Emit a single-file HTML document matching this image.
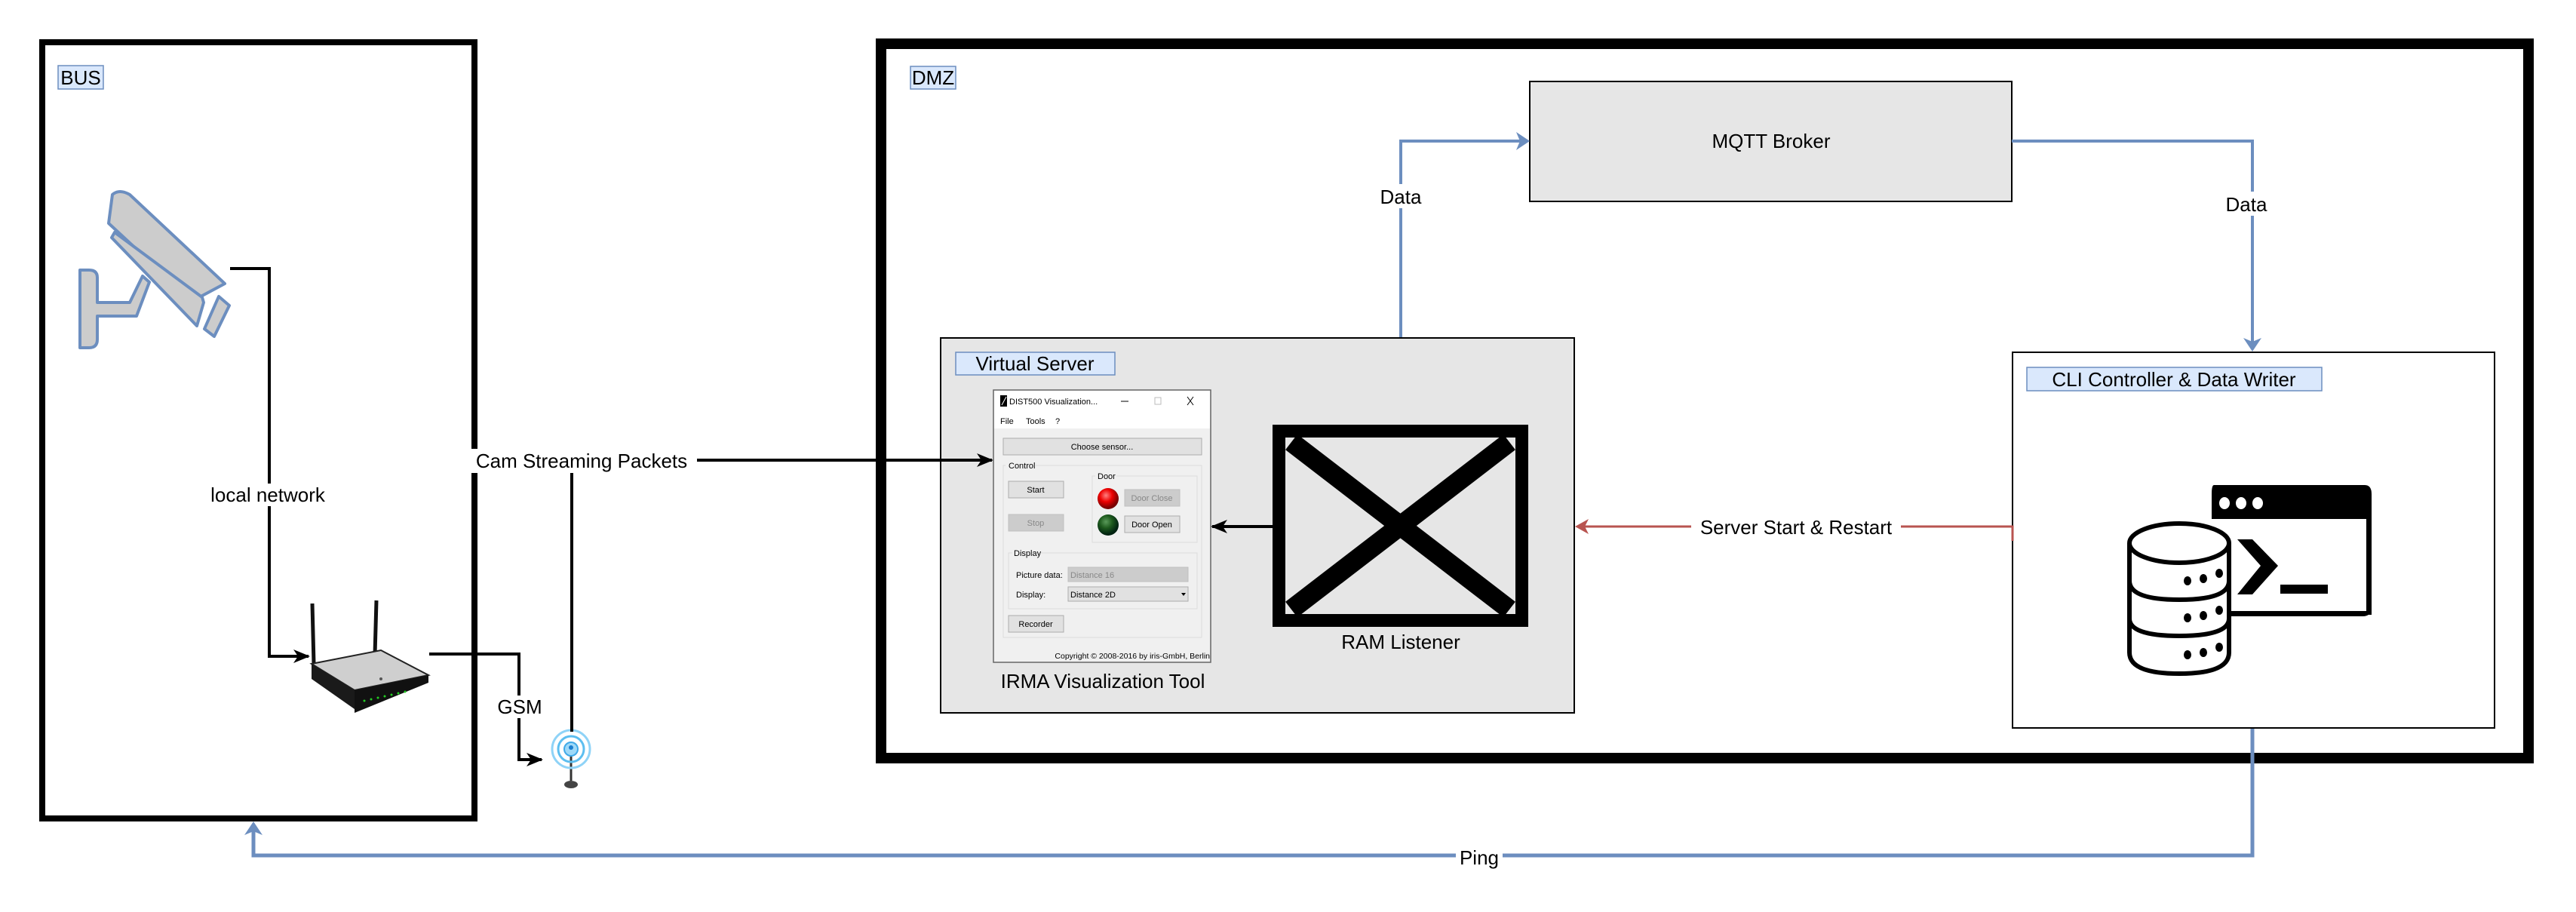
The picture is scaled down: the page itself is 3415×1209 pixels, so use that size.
<!DOCTYPE html>
<html><head><meta charset="utf-8"><style>
html,body{margin:0;padding:0;background:#fff;}
svg{display:block;}
text{font-family:"Liberation Sans",Arial,sans-serif;fill:#000;}
</style></head><body>
<svg width="3415" height="1209" viewBox="0 0 3415 1209" xmlns="http://www.w3.org/2000/svg">
<defs>
<marker id="ab" markerWidth="22" markerHeight="22" refX="20" refY="11" orient="auto" markerUnits="userSpaceOnUse" viewBox="0 0 22 22"><path d="M0,2 L22,11 L0,20 L6,11 Z" fill="#000"/></marker>
<radialGradient id="rg" cx="0.4" cy="0.35" r="0.6"><stop offset="0" stop-color="#ff8080"/><stop offset="0.5" stop-color="#ee0000"/><stop offset="1" stop-color="#700"/></radialGradient>
<radialGradient id="gg" cx="0.4" cy="0.35" r="0.6"><stop offset="0" stop-color="#5a9a5a"/><stop offset="0.5" stop-color="#1d5a1d"/><stop offset="1" stop-color="#021"/></radialGradient>
</defs>
<rect width="3415" height="1209" fill="#fff"/>

<!-- BUS container -->
<rect x="56" y="56" width="573" height="1029" fill="none" stroke="#000" stroke-width="8"/>
<rect x="77" y="87" width="60" height="31" fill="#dae8fc" stroke="#6c8ebf" stroke-width="1.5"/>
<text x="107" y="112" font-size="26" text-anchor="middle">BUS</text>

<!-- DMZ container -->
<rect x="1168" y="58" width="2184" height="947" fill="none" stroke="#000" stroke-width="14"/>
<rect x="1207" y="88" width="60" height="30" fill="#dae8fc" stroke="#6c8ebf" stroke-width="1.5"/>
<text x="1237" y="112" font-size="26" text-anchor="middle">DMZ</text>

<!-- Camera -->
<g fill="#cccccc" stroke="#6c8ebf" stroke-width="4" stroke-linejoin="round">
<path d="M149,258 Q158,250 172,258 L298,376 L255,399 L144,296 Z"/>
<path d="M148,315 L152,308 L268,394 L270,401 L261,432 Z"/>
<path d="M290,393 L304,405 L284,446 L271,436 Z"/>
<path d="M106,358 L118,358 Q129,358 129,368 L129,401 L172,401 L189,366 L198,374 L181,419 L129,419 L129,450 Q129,461 118,461 L106,461 Z"/>
</g>

<!-- camera -> router -->
<polyline points="305,356 357,356 357,870 409,870" fill="none" stroke="#000" stroke-width="4" marker-end="url(#ab)"/>
<rect x="270" y="641" width="174" height="30" fill="#fff"/>
<text x="355" y="665" font-size="26" text-anchor="middle">local network</text>

<!-- Router -->
<g>
<line x1="414" y1="800" x2="416" y2="880" stroke="#111" stroke-width="5"/>
<line x1="499" y1="796" x2="497" y2="868" stroke="#111" stroke-width="5"/>
<polygon points="413,880 505,862 568,895 470,915" fill="#cfcfcf" stroke="#222" stroke-width="2"/>
<polygon points="413,880 470,915 470,940 413,900" fill="#1a1a1a"/>
<polygon points="470,915 568,895 568,905 470,945" fill="#111"/>
<g fill="#2c2"><circle cx="483" cy="929" r="1.5"/><circle cx="492" cy="927" r="1.5"/><circle cx="501" cy="925" r="1.5"/><circle cx="510" cy="923" r="1.5"/><circle cx="519" cy="921" r="1.5"/><circle cx="528" cy="919" r="1.5"/><circle cx="537" cy="917" r="1.5"/></g>
<circle cx="505" cy="900" r="2" fill="#555"/>
</g>

<!-- router -> antenna GSM -->
<polyline points="569,867 688,867 688,1007 718,1007" fill="none" stroke="#000" stroke-width="4" marker-end="url(#ab)"/>
<rect x="652" y="922" width="74" height="30" fill="#fff"/>
<text x="689" y="946" font-size="26" text-anchor="middle">GSM</text>

<!-- Antenna icon -->
<g>
<line x1="757" y1="995" x2="757" y2="1035" stroke="#333" stroke-width="3"/>
<ellipse cx="757" cy="1040" rx="9" ry="5" fill="#444"/>
<circle cx="757" cy="993" r="25" fill="none" stroke="#8fd3f7" stroke-width="3"/>
<circle cx="757" cy="993" r="17" fill="none" stroke="#5cbef0" stroke-width="3"/>
<circle cx="757" cy="993" r="9" fill="#9ed9f8" stroke="#3fa9e8" stroke-width="2"/>
<circle cx="757" cy="991" r="3" fill="#1b7fd0"/>
</g>

<!-- MQTT Broker -->
<rect x="2028" y="108" width="639" height="159" fill="#e6e6e6" stroke="#000" stroke-width="2"/>
<text x="2348" y="196" font-size="26" text-anchor="middle">MQTT Broker</text>

<!-- Data: RAM -> MQTT -->
<polyline points="1857,562 1857,187 2018,187" fill="none" stroke="#6c8ebf" stroke-width="4"/>
<polygon points="2028,187 2010,175 2015,187 2010,199" fill="#6c8ebf"/>
<rect x="1826" y="244" width="62" height="32" fill="#fff"/>
<text x="1857" y="270" font-size="26" text-anchor="middle">Data</text>

<!-- Data: MQTT -> CLI -->
<polyline points="2667,187 2986,187 2986,456" fill="none" stroke="#6c8ebf" stroke-width="4"/>
<polygon points="2986,466 2974,448 2986,453 2998,448" fill="#6c8ebf"/>
<rect x="2946" y="254" width="64" height="32" fill="#fff"/>
<text x="2978" y="280" font-size="26" text-anchor="middle">Data</text>

<!-- Virtual Server -->
<rect x="1247" y="448" width="840" height="497" fill="#e6e6e6" stroke="#000" stroke-width="2"/>
<rect x="1267" y="467" width="211" height="30" fill="#dae8fc" stroke="#6c8ebf" stroke-width="1.5"/>
<text x="1372" y="491" font-size="26" text-anchor="middle">Virtual Server</text>

<!-- Antenna -> IRMA (Cam Streaming Packets) -->
<polyline points="758,970 758,610 1315,610" fill="none" stroke="#000" stroke-width="4" marker-end="url(#ab)"/>
<rect x="618" y="595" width="306" height="32" fill="#fff"/>
<text x="771" y="620" font-size="26" text-anchor="middle">Cam Streaming Packets</text>

<!-- IRMA window -->
<g font-size="11">
<rect x="1317" y="517" width="288" height="361" fill="#f0f0f0" stroke="#666" stroke-width="1.5"/>
<rect x="1318" y="518" width="286" height="50" fill="#fff"/>
<rect x="1326" y="524" width="9" height="15" fill="#000"/>
<line x1="1328" y1="537" x2="1334" y2="526" stroke="#fff" stroke-width="1"/>
<text x="1338" y="536" font-size="11">DIST500 Visualization...</text>
<line x1="1486" y1="532" x2="1496" y2="532" stroke="#000" stroke-width="1"/>
<rect x="1531" y="527" width="8" height="9" fill="none" stroke="#bbb" stroke-width="1"/>
<path d="M1574,526 L1582,537 M1582,526 L1574,537" stroke="#000" stroke-width="1"/>
<text x="1326" y="562">File</text><text x="1360" y="562">Tools</text><text x="1399" y="562">?</text>
<rect x="1330" y="581" width="263" height="22" fill="#e1e1e1" stroke="#adadad"/>
<text x="1461" y="596" text-anchor="middle">Choose sensor...</text>
<rect x="1330" y="617" width="263" height="228" fill="none" stroke="#dcdcdc"/>
<rect x="1333" y="611" width="40" height="12" fill="#f0f0f0"/>
<text x="1337" y="621">Control</text>
<rect x="1448" y="631" width="139" height="88" fill="none" stroke="#dcdcdc"/>
<rect x="1452" y="626" width="28" height="12" fill="#f0f0f0"/>
<text x="1455" y="635">Door</text>
<rect x="1337" y="638" width="73" height="22" fill="#e1e1e1" stroke="#adadad"/>
<text x="1373" y="653" text-anchor="middle">Start</text>
<rect x="1337" y="682" width="73" height="22" fill="#cccccc" stroke="#bfbfbf"/>
<text x="1373" y="697" text-anchor="middle" style="fill:#888">Stop</text>
<ellipse cx="1469" cy="661" rx="14" ry="14" fill="url(#rg)"/>
<ellipse cx="1469" cy="696" rx="14" ry="14" fill="url(#gg)"/>
<rect x="1491" y="649" width="73" height="22" fill="#cccccc" stroke="#bfbfbf"/>
<text x="1527" y="664" text-anchor="middle" style="fill:#888">Door Close</text>
<rect x="1491" y="684" width="73" height="22" fill="#e1e1e1" stroke="#adadad"/>
<text x="1527" y="699" text-anchor="middle">Door Open</text>
<rect x="1337" y="733" width="250" height="74" fill="none" stroke="#dcdcdc"/>
<rect x="1342" y="728" width="38" height="12" fill="#f0f0f0"/>
<text x="1344" y="737">Display</text>
<text x="1347" y="766">Picture data:</text>
<rect x="1416" y="752" width="159" height="19" fill="#cccccc" stroke="#bfbfbf"/>
<text x="1419" y="766" style="fill:#888">Distance 16</text>
<text x="1347" y="792">Display:</text>
<rect x="1416" y="778" width="159" height="19" fill="#e1e1e1" stroke="#adadad"/>
<text x="1419" y="792">Distance 2D</text>
<polygon points="1566,786 1572,786 1569,790" fill="#000"/>
<rect x="1337" y="816" width="73" height="22" fill="#e1e1e1" stroke="#adadad"/>
<text x="1373" y="831" text-anchor="middle">Recorder</text>
<text x="1604" y="873" text-anchor="end" font-size="10.5">Copyright © 2008-2016 by iris-GmbH, Berlin</text>
</g>
<text x="1462" y="912" font-size="26" text-anchor="middle">IRMA Visualization Tool</text>

<!-- RAM Listener -->
<rect x="1695" y="571" width="323" height="252" fill="none" stroke="#000" stroke-width="16"/>
<line x1="1712" y1="586" x2="2001" y2="808" stroke="#000" stroke-width="26"/>
<line x1="2001" y1="586" x2="1712" y2="808" stroke="#000" stroke-width="26"/>
<rect x="1703" y="579" width="307" height="236" fill="none" stroke="#000" stroke-width="2"/>
<text x="1857" y="860" font-size="26" text-anchor="middle">RAM Listener</text>

<!-- RAM -> IRMA -->
<line x1="1687" y1="698" x2="1607" y2="698" stroke="#000" stroke-width="4" marker-end="url(#ab)"/>

<!-- CLI Controller -->
<rect x="2668" y="467" width="639" height="498" fill="#fff" stroke="#000" stroke-width="2"/>
<rect x="2687" y="487" width="391" height="31" fill="#dae8fc" stroke="#6c8ebf" stroke-width="1.5"/>
<text x="2882" y="512" font-size="26" text-anchor="middle">CLI Controller &amp; Data Writer</text>
<path d="M2935,643 L3135,643 Q3144,643 3144,655 L3144,805 Q3144,817 3132,817 L2958,817 L2958,810 L3137,810 L3137,688 L2932,688 L2932,655 Q2932,643 2935,643 Z" fill="#000"/>
<rect x="2932" y="680" width="212" height="8" fill="#000"/>
<rect x="3137" y="680" width="7" height="135" fill="#000"/>
<g fill="#fff"><ellipse cx="2949" cy="667" rx="7" ry="8"/><ellipse cx="2971" cy="667" rx="7" ry="8"/><ellipse cx="2993" cy="667" rx="7" ry="8"/></g>
<polygon points="2966,715 2986,715 3020,750 2986,788 2966,788 2997,750" fill="#000"/>
<rect x="3023" y="775" width="63" height="12" fill="#000"/>
<g fill="#fff" stroke="#000" stroke-width="6">
<path d="M2823,720 L2823,865 Q2823,893 2889,893 Q2955,893 2955,865 L2955,720"/>
<ellipse cx="2889" cy="720" rx="66" ry="26"/>
<path d="M2823,770 Q2823,795 2889,795 Q2955,795 2955,770" fill="none"/>
<path d="M2823,820 Q2823,843 2889,843 Q2955,843 2955,820" fill="none"/>
</g>
<g fill="#000">
<ellipse cx="2900" cy="770" rx="5" ry="6"/><ellipse cx="2921" cy="767" rx="5" ry="6"/><ellipse cx="2942" cy="760" rx="5" ry="6"/>
<ellipse cx="2900" cy="819" rx="5" ry="6"/><ellipse cx="2921" cy="816" rx="5" ry="6"/><ellipse cx="2942" cy="809" rx="5" ry="6"/>
<ellipse cx="2900" cy="868" rx="5" ry="6"/><ellipse cx="2921" cy="865" rx="5" ry="6"/><ellipse cx="2942" cy="858" rx="5" ry="6"/>
</g>

<!-- Server Start & Restart (red) -->
<polyline points="2668,717 2668,698 2100,698" fill="none" stroke="#b85450" stroke-width="3"/>
<polygon points="2088,698 2106,688 2101,698 2106,708" fill="#b85450"/>
<rect x="2242" y="683" width="278" height="32" fill="#fff"/>
<text x="2381" y="708" font-size="26" text-anchor="middle">Server Start &amp; Restart</text>

<!-- Ping -->
<polyline points="2986,966 2986,1134 336,1134 336,1102" fill="none" stroke="#6c8ebf" stroke-width="5"/>
<polygon points="336,1089 324,1107 336,1102 348,1107" fill="#6c8ebf"/>
<rect x="1930" y="1124" width="62" height="26" fill="#fff"/>
<text x="1961" y="1146" font-size="26" text-anchor="middle">Ping</text>
</svg>
</body></html>
